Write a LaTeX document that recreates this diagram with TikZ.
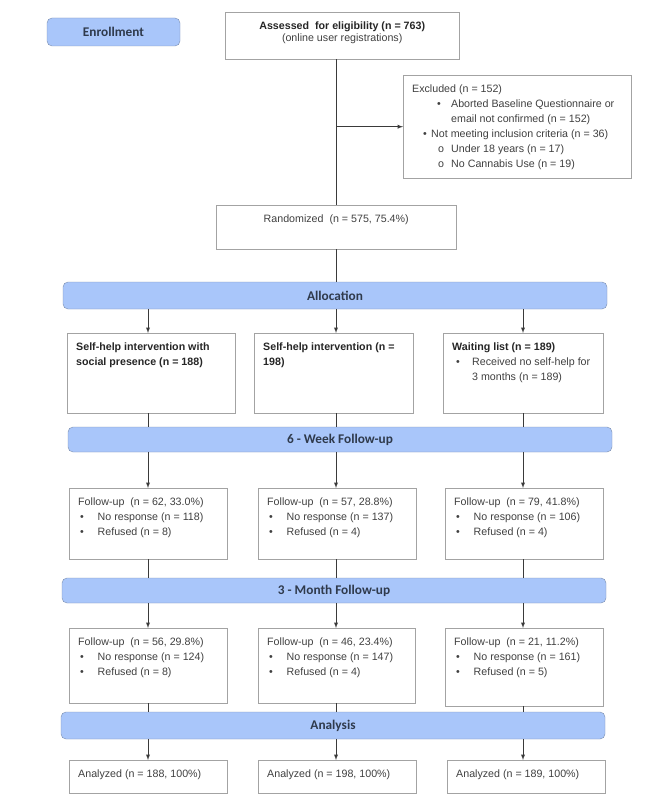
\documentclass[tikz,border=0pt]{standalone}
\usepackage{fontspec}
\setmainfont{Liberation Sans}
\newfontfamily\barfont{Carlito}
\usetikzlibrary{arrows}

\definecolor{barfill}{HTML}{A9C6FA}
\definecolor{barline}{HTML}{7A8DAE}
\definecolor{bartext}{HTML}{2F3A4C}
\definecolor{boxline}{HTML}{A3A3A3}
\definecolor{boxtext}{HTML}{404040}
\definecolor{wire}{HTML}{3A3A3A}

% text of a box: outer width and height in pt, text hangs from the top
\newcommand{\inbox}[3]{\parbox[t][\dimexpr#2pt-20pt\relax][t]{\dimexpr#1pt-18pt\relax}{#3}}
\newcommand{\dotitem}{\hspace*{2pt}\makebox[17.5pt][l]{•}}

\begin{document}
\begin{tikzpicture}[x=1pt, y=-1pt, >=latex]
    \tikzset{bar/.style = {draw=barline, fill=barfill, rounded corners=5pt, inner sep=0pt, text=bartext, font=\barfont\bfseries\fontsize{13.3}{16}\selectfont}}
    \tikzset{box/.style = {draw=boxline, fill=white, anchor=north west, inner xsep=9pt, inner ysep=10pt, text=boxtext, font=\fontsize{10.67}{15}\selectfont}}
    \tikzset{wire/.style = {draw=wire, line width=0.9pt}}

    \useasboundingbox (0,0) rectangle (666,799);

    % columns
    \coordinate (c1) at (148,0);
    \coordinate (c2) at (336,0);
    \coordinate (c3) at (523,0);

    % enrollment
    \node[bar, minimum width=133pt, minimum height=28pt] (enroll) at (113.5,32) {Enrollment};
    \node[box] (assess) at (225,12) {\inbox{234}{47}{\centering\color{black!85}\bfseries Assessed\ \ for eligibility (n = 763)\\[-3pt]
        \color{boxtext}\mdseries (online user registrations)}};
    \node[box] (excl) at (403,75) {\inbox{228}{103}{Excluded (n = 152)\\
        \hspace*{25pt}\makebox[14pt][l]{•}Aborted Baseline Questionnaire or\\
        \hspace*{39pt}email not confirmed (n = 152)\\
        \hspace*{11pt}\makebox[8pt][l]{•}Not meeting inclusion criteria (n = 36)\\
        \hspace*{26pt}\makebox[13pt][l]{o}Under 18 years (n = 17)\\
        \hspace*{26pt}\makebox[13pt][l]{o}No Cannabis Use (n = 19)}};
    \node[box] (rand) at (216,205) {\inbox{240}{44}{\centering Randomized\ \ (n = 575, 75.4\%)}};

    % allocation
    \node[bar, minimum width=544pt, minimum height=27pt] (alloc) at (335,295.5) {Allocation};
    \node[box] (a1) at (67,333) {\inbox{168}{80}{\color{black!85}\bfseries Self-help intervention with\\ social presence (n = 188)}};
    \node[box] (a2) at (254,333) {\inbox{159}{80}{\color{black!85}\bfseries Self-help intervention (n =\\ 198)}};
    \node[box] (a3) at (443,333) {\inbox{160}{80}{{\color{black!85}\bfseries Waiting list (n = 189)}\\
        \hspace*{4pt}\makebox[16pt][l]{•}Received no self-help for\\
        \hspace*{20pt}3 months (n = 189)}};

    % 6 weeks
    \node[bar, minimum width=544pt, minimum height=25pt] (week) at (340,439.5) {6 - Week Follow-up};
    \node[box] (w1) at (69,488) {\inbox{158}{71}{Follow-up\ \ (n = 62, 33.0\%)\\ \dotitem No response (n = 118)\\ \dotitem Refused (n = 8)}};
    \node[box] (w2) at (258,488) {\inbox{158}{71}{Follow-up\ \ (n = 57, 28.8\%)\\ \dotitem No response (n = 137)\\ \dotitem Refused (n = 4)}};
    \node[box] (w3) at (445,488) {\inbox{158}{71}{Follow-up\ \ (n = 79, 41.8\%)\\ \dotitem No response (n = 106)\\ \dotitem Refused (n = 4)}};

    % 3 months
    \node[bar, minimum width=544pt, minimum height=25pt] (month) at (334,590.5) {3 - Month Follow-up};
    \node[box] (m1) at (69,628) {\inbox{158}{75}{Follow-up\ \ (n = 56, 29.8\%)\\ \dotitem No response (n = 124)\\ \dotitem Refused (n = 8)}};
    \node[box] (m2) at (258,628) {\inbox{157}{75}{Follow-up\ \ (n = 46, 23.4\%)\\ \dotitem No response (n = 147)\\ \dotitem Refused (n = 4)}};
    \node[box] (m3) at (445,628) {\inbox{158}{78}{Follow-up\ \ (n = 21, 11.2\%)\\ \dotitem No response (n = 161)\\ \dotitem Refused (n = 5)}};

    % analysis
    \node[bar, minimum width=544pt, minimum height=27pt] (anal) at (333,725.5) {Analysis};
    \node[box] (r1) at (69,760) {\inbox{158}{33}{Analyzed (n = 188, 100\%)}};
    \node[box] (r2) at (258,760) {\inbox{158}{33}{Analyzed (n = 198, 100\%)}};
    \node[box] (r3) at (447,760) {\inbox{158}{33}{Analyzed (n = 189, 100\%)}};

    % edges
    \draw[wire] (assess.south -| c2) -- (rand.north -| c2);
    \draw[wire, ->] (excl.west -| c2) -- (excl.west);
    \draw[wire] (rand.south -| c2) -- (alloc.north -| c2);

    \draw[wire, ->] (alloc.south -| c1) -- (a1.north -| c1);
    \draw[wire, ->] (alloc.south -| c2) -- (a2.north -| c2);
    \draw[wire, ->] (alloc.south -| c3) -- (a3.north -| c3);
    \draw[wire] (a1.south -| c1) -- (week.north -| c1);
    \draw[wire] (a2.south -| c2) -- (week.north -| c2);
    \draw[wire] (a3.south -| c3) -- (week.north -| c3);

    \draw[wire, ->] (week.south -| c1) -- (w1.north -| c1);
    \draw[wire, ->] (week.south -| c2) -- (w2.north -| c2);
    \draw[wire, ->] (week.south -| c3) -- (w3.north -| c3);
    \draw[wire] (w1.south -| c1) -- (month.north -| c1);
    \draw[wire] (w2.south -| c2) -- (month.north -| c2);
    \draw[wire] (w3.south -| c3) -- (month.north -| c3);

    \draw[wire, ->] (month.south -| c1) -- (m1.north -| c1);
    \draw[wire, ->] (month.south -| c2) -- (m2.north -| c2);
    \draw[wire, ->] (month.south -| c3) -- (m3.north -| c3);
    \draw[wire] (m1.south -| c1) -- (anal.north -| c1);
    \draw[wire] (m2.south -| c2) -- (anal.north -| c2);
    \draw[wire] (m3.south -| c3) -- (anal.north -| c3);

    \draw[wire, ->] (anal.south -| c1) -- (r1.north -| c1);
    \draw[wire, ->] (anal.south -| c2) -- (r2.north -| c2);
    \draw[wire, ->] (anal.south -| c3) -- (r3.north -| c3);
\end{tikzpicture}
\end{document}
